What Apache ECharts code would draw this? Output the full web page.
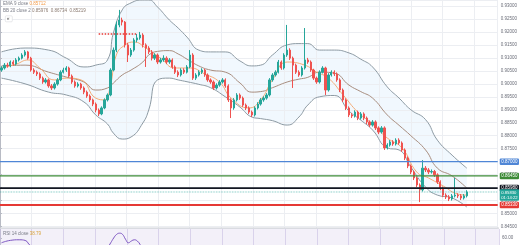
<!DOCTYPE html>
<html><head><meta charset="utf-8">
<script src="https://cdn.jsdelivr.net/npm/echarts@6/dist/echarts.min.js"></script>
<style>html,body{margin:0;padding:0;background:#fff}#c{width:520px;height:245px}</style>
</head><body><div id="c"></div><script>
// ---------- data ----------
const firstOpen = 0.9053;
const closes = [0.9061,0.9072,0.9069,0.9084,0.9076,0.9092,0.9099,0.9111,0.9123,0.9099,
0.9053,0.9045,0.9038,0.9022,0.9007,0.9015,0.8992,0.8984,0.8999,0.9015,
0.9045,0.9053,0.9061,0.9030,0.9007,0.8992,0.8999,0.8984,0.8968,0.8953,
0.8938,0.8922,0.8899,0.8884,0.8907,0.8938,0.8957,0.9053,0.9130,0.9227,
0.9246,0.9238,0.9150,0.9111,0.9130,0.9169,0.9177,0.9188,0.9150,0.9138,
0.9123,0.9099,0.9111,0.9084,0.9092,0.9099,0.9084,0.9092,0.9065,0.9045,
0.9034,0.9053,0.9045,0.9065,0.9111,0.9022,0.9034,0.9045,0.9053,0.9034,
0.9015,0.9007,0.8984,0.8995,0.9007,0.9015,0.8992,0.8938,0.8907,0.8938,
0.8957,0.8945,0.8918,0.8907,0.8891,0.8880,0.8907,0.8922,0.8938,0.8945,
0.8957,0.9015,0.9034,0.9045,0.9084,0.9061,0.9111,0.9130,0.9099,0.9072,
0.9045,0.9034,0.9061,0.9092,0.9084,0.9053,0.9022,0.9007,0.9045,0.9061,
0.8976,0.9034,0.9045,0.9038,0.9015,0.8976,0.8938,0.8907,0.8880,0.8876,
0.8891,0.8868,0.8884,0.8868,0.8853,0.8841,0.8853,0.8830,0.8814,0.8830,
0.8753,0.8764,0.8776,0.8768,0.8783,0.8772,0.8745,0.8714,0.8683,0.8660,
0.8637,0.8610,0.8591,0.8675,0.8668,0.8660,0.8662,0.8649,0.8622,0.8598,
0.8571,0.8564,0.8556,0.8568,0.8571,0.8568,0.8560,0.8568,0.8583];
const highs = [0.9068,0.9080,0.9081,0.9090,0.9091,0.9099,0.9105,0.9118,0.9130,0.9127,
0.9104,0.9060,0.9051,0.9044,0.9028,0.9022,0.9020,0.8999,0.9006,0.9022,
0.9052,0.9062,0.9068,0.9066,0.9036,0.9013,0.9006,0.9004,0.8990,0.8974,
0.8959,0.8943,0.8928,0.8905,0.8913,0.8944,0.8963,0.9060,0.9140,0.9240,
0.9285,0.9255,0.9242,0.9158,0.9138,0.9176,0.9192,0.9200,0.9195,0.9156,
0.9145,0.9130,0.9118,0.9117,0.9100,0.9110,0.9106,0.9099,0.9098,0.9071,
0.9052,0.9060,0.9060,0.9072,0.9130,0.9118,0.9041,0.9052,0.9060,0.9058,
0.9040,0.9021,0.9013,0.9002,0.9014,0.9022,0.9021,0.8998,0.8944,0.8945,
0.8964,0.8963,0.8951,0.8924,0.8913,0.8897,0.8913,0.8929,0.8945,0.8952,
0.8964,0.9022,0.9041,0.9052,0.9092,0.9090,0.9118,0.9227,0.9137,0.9105,
0.9078,0.9052,0.9068,0.9215,0.9100,0.9090,0.9058,0.9028,0.9052,0.9068,
0.9066,0.9041,0.9052,0.9052,0.9044,0.9021,0.8982,0.8944,0.8913,0.8887,
0.8898,0.8897,0.8891,0.8890,0.8874,0.8859,0.8860,0.8859,0.8836,0.8837,
0.8836,0.8771,0.8783,0.8783,0.8790,0.8790,0.8778,0.8751,0.8720,0.8689,
0.8666,0.8643,0.8616,0.8706,0.8683,0.8675,0.8670,0.8668,0.8655,0.8628,
0.8604,0.8578,0.8571,0.8575,0.8637,0.8578,0.8575,0.8575,0.8590];
const lows = [0.9047,0.9055,0.9062,0.9064,0.9070,0.9071,0.9086,0.9094,0.9105,0.9093,
0.9047,0.9038,0.9030,0.9015,0.9000,0.9001,0.8985,0.8976,0.8978,0.8993,
0.9010,0.9040,0.9046,0.9024,0.9000,0.8985,0.8986,0.8977,0.8960,0.8946,
0.8930,0.8914,0.8890,0.8876,0.8879,0.8902,0.8932,0.8952,0.9048,0.9122,
0.9218,0.9225,0.9140,0.9084,0.9104,0.9124,0.9160,0.9170,0.9140,0.9065,
0.9115,0.9090,0.9092,0.9076,0.9078,0.9085,0.9076,0.9077,0.9058,0.9038,
0.9026,0.9028,0.9038,0.9040,0.9060,0.9015,0.9015,0.9028,0.9038,0.9027,
0.9008,0.9000,0.8976,0.8978,0.8989,0.9001,0.8985,0.8930,0.8868,0.8900,
0.8932,0.8938,0.8911,0.8899,0.8884,0.8872,0.8874,0.8901,0.8916,0.8931,
0.8939,0.8951,0.9008,0.9028,0.9040,0.9054,0.9055,0.9104,0.9092,0.8984,
0.9038,0.9027,0.9028,0.9055,0.9077,0.9046,0.9015,0.9000,0.9001,0.9040,
0.8957,0.8970,0.9028,0.9030,0.9008,0.8968,0.8930,0.8899,0.8872,0.8868,
0.8870,0.8860,0.8862,0.8860,0.8845,0.8833,0.8835,0.8822,0.8806,0.8808,
0.8745,0.8747,0.8758,0.8761,0.8762,0.8765,0.8738,0.8706,0.8675,0.8652,
0.8629,0.8602,0.8544,0.8585,0.8660,0.8652,0.8654,0.8641,0.8614,0.8590,
0.8563,0.8556,0.8548,0.8550,0.8562,0.8560,0.8552,0.8554,0.8562];
const emptySlots = 10;

const bbIdx    = [0,8,16,22,28,32,36,38,41,44,48,50,53,57,60,63,67,71,76,81,85,88,92,97,101,104,108,113,118,122,126,131,135,139,144,148,153,158];
const bbUpper  = [0.9123,0.9138,0.9130,0.9099,0.9065,0.9072,0.9092,0.9196,0.9285,0.9312,0.9323,0.9323,0.9296,0.9246,0.9215,0.9180,0.9130,0.9123,0.9123,0.9088,0.9069,0.9072,0.9111,0.9150,0.9155,0.9155,0.9130,0.9130,0.9119,0.9095,0.9065,0.8988,0.8945,0.8900,0.8862,0.8783,0.8725,0.8675];
const bbMiddle = [0.9069,0.9072,0.9045,0.9026,0.9007,0.8976,0.8984,0.9003,0.9034,0.9053,0.9084,0.9111,0.9125,0.9128,0.9115,0.9095,0.9069,0.9053,0.9045,0.9003,0.8968,0.8970,0.8985,0.9007,0.9018,0.9025,0.9045,0.9041,0.8995,0.8970,0.8945,0.8880,0.8840,0.8800,0.8745,0.8675,0.8645,0.8598];
const bbLower  = [0.9022,0.9000,0.8968,0.8957,0.8930,0.8880,0.8845,0.8810,0.8787,0.8795,0.8849,0.8899,0.9015,0.9022,0.9015,0.9008,0.8998,0.8985,0.8950,0.8910,0.8872,0.8866,0.8858,0.8841,0.8872,0.8918,0.8950,0.8955,0.8895,0.8860,0.8822,0.8753,0.8745,0.8679,0.8602,0.8571,0.8560,0.8525];

const emaIdx  = [0,5,9,13,18,22,27,32,35,37,39,42,45,49,54,59,64,69,74,78,84,88,92,97,103,107,111,116,121,126,131,136,141,145,150,155,158];
const emaVals = [0.9061,0.9076,0.9092,0.9061,0.9015,0.9022,0.9015,0.8945,0.8938,0.8995,0.9111,0.9150,0.9161,0.9138,0.9099,0.9061,0.9061,0.9038,0.9007,0.8945,0.8907,0.8938,0.9015,0.9084,0.9072,0.9045,0.9022,0.8957,0.8891,0.8845,0.8791,0.8753,0.8660,0.8637,0.8606,0.8575,0.8571];

const rsiIdx  = [0,3,6,8,10,14,20,26,32,35,37,38,39,40,41,42,43,44,45,46,48,55,65,75,85,95,98,100,104,110,120,130,140,143,145,150,158];
const rsiVals = [52,56,57,56,47,44,47,40,33,38,52,60,66,68,66,58,52,55,57,55,46,45,46,42,36,44,47,45,47,44,38,32,28,26,42,34,38.79];

const levelValues = [0.8700, 0.8645, 0.8598, 0.8533];
const levelColors = ['#4f86d6', '#3d8b37', '#131722', '#e53935'];
const levelWidths = [1.1, 1.3, 1.6, 2];
const redDashIdx = [33, 46];
const redDashValue = 0.9192;
const lastPrice = 0.8583;
const countdown = '01:14:22';
const yTickStep = 0.005;
const yMin = 0.84442, yMax = 0.93231;
const rsiMin = 48.3, rsiMax = 75, rsiStep = 15;
const gridUnits = 499 / 31.7; // span of the helper x-axis used for vertical grid lines

// ---------- build ----------
const n = closes.length;
const cats = [];
for (let i = 0; i < n + emptySlots; i++) cats.push(String(i));
const candles = closes.map((c, i) => [i === 0 ? firstOpen : closes[i - 1], c, lows[i], highs[i]]);
const pairs = (idx, vals) => idx.map((x, k) => [x, vals[k]]);
const bbDiff = bbIdx.map((x, k) => [x, +(bbUpper[k] - bbLower[k]).toFixed(5)]);

const FONT = 'Liberation Sans';
const txtGray = '#787b86';

const levelSeries = levelValues.map((v, k) => ({
  name: 'level' + k, type: 'line', xAxisIndex: 1, yAxisIndex: 0,
  data: [[0, v], [gridUnits, v]], showSymbol: false, silent: true, z: 6,
  lineStyle: { color: levelColors[k], width: levelWidths[k], type: 'solid' },
  endLabel: { show: true, distance: 2, formatter: v.toFixed(5),
    color: '#fff', backgroundColor: levelColors[k], fontSize: 4.5, fontFamily: FONT,
    padding: [1, 1.5, 0.5, 1.5], borderRadius: 1 }
}));

const chart = echarts.init(document.getElementById('c'), null, { renderer: 'canvas' });
chart.setOption({
  animation: false,
  backgroundColor: '#ffffff',
  textStyle: { fontFamily: FONT },
  grid: [
    { left: 0, right: 21, top: 0, height: 228 },
    { left: 0, right: 21, top: 229, height: 16, show: true, backgroundColor: 'rgba(126,87,194,0.09)', borderWidth: 0 }
  ],
  xAxis: [
    { type: 'category', gridIndex: 0, data: cats, boundaryGap: true, show: false },
    { type: 'value', gridIndex: 0, min: 0, max: gridUnits, interval: 1, position: 'top', z: 2,
      axisLine: { show: false }, axisTick: { show: false }, axisLabel: { show: false },
      splitLine: { show: true, lineStyle: { color: '#eceef2', width: 1 } } },
    { type: 'category', gridIndex: 1, data: cats, boundaryGap: true, show: false },
    { type: 'value', gridIndex: 1, min: 0, max: gridUnits, interval: 1, z: 2,
      axisLine: { show: false }, axisTick: { show: false }, axisLabel: { show: false },
      splitLine: { show: true, lineStyle: { color: 'rgba(200,190,225,0.6)', width: 1 } } }
  ],
  yAxis: [
    { type: 'value', gridIndex: 0, position: 'right', min: yMin, max: yMax, scale: true,
      splitNumber: 17, minInterval: yTickStep, maxInterval: yTickStep, z: 2,
      axisLine: { show: true, lineStyle: { color: '#b8bbc4', width: 1 } },
      axisTick: { show: true, length: 2, lineStyle: { color: '#b8bbc4' } },
      axisLabel: { fontSize: 4.5, color: '#6a6d78', margin: 3, showMinLabel: false, showMaxLabel: false,
        formatter: v => v.toFixed(5) },
      splitLine: { show: true, lineStyle: { color: '#eceef2', width: 1 } } },
    { type: 'value', gridIndex: 1, position: 'right', min: rsiMin, max: rsiMax, scale: true,
      splitNumber: 2, minInterval: rsiStep, maxInterval: rsiStep,
      axisLine: { show: true, lineStyle: { color: '#b8bbc4', width: 1 } },
      axisTick: { show: true, length: 2, lineStyle: { color: '#b8bbc4' } },
      axisLabel: { fontSize: 4.5, color: '#6a6d78', margin: 3, showMinLabel: false, showMaxLabel: false, formatter: v => v.toFixed(2) },
      splitLine: { show: false } }
  ],
  series: [
    { name: 'bbBase', type: 'line', xAxisIndex: 0, yAxisIndex: 0, stack: 'bb', data: pairs(bbIdx, bbLower),
      smooth: 0.5, showSymbol: false, silent: true, lineStyle: { opacity: 0 }, z: 1 },
    { name: 'bbFill', type: 'line', xAxisIndex: 0, yAxisIndex: 0, stack: 'bb', data: bbDiff,
      smooth: 0.5, showSymbol: false, silent: true, lineStyle: { opacity: 0 },
      areaStyle: { color: 'rgba(33,150,243,0.09)' }, z: 1 },
    { name: 'bbUpper', type: 'line', xAxisIndex: 0, yAxisIndex: 0, data: pairs(bbIdx, bbUpper),
      smooth: 0.5, showSymbol: false, silent: true, lineStyle: { color: '#8d9aa3', width: 1 }, z: 3 },
    { name: 'bbLower', type: 'line', xAxisIndex: 0, yAxisIndex: 0, data: pairs(bbIdx, bbLower),
      smooth: 0.5, showSymbol: false, silent: true, lineStyle: { color: '#8d9aa3', width: 1 }, z: 3 },
    { name: 'bbMiddle', type: 'line', xAxisIndex: 0, yAxisIndex: 0, data: pairs(bbIdx, bbMiddle),
      smooth: 0.5, showSymbol: false, silent: true, lineStyle: { color: '#a88d7e', width: 1 }, z: 3 },
    { name: 'ema', type: 'line', xAxisIndex: 0, yAxisIndex: 0, data: pairs(emaIdx, emaVals),
      smooth: 0.5, showSymbol: false, silent: true, lineStyle: { color: '#f3a469', width: 0.9 }, z: 3 },
    { name: 'price', type: 'candlestick', xAxisIndex: 0, yAxisIndex: 0, data: candles, barWidth: '62%', z: 5,
      itemStyle: { color: '#26a69a', color0: '#ef5350', borderColor: '#26a69a', borderColor0: '#ef5350', borderWidth: 1 } },
    { name: 'lastPrice', type: 'line', xAxisIndex: 1, yAxisIndex: 0,
      data: [[0, lastPrice], [gridUnits, lastPrice]], showSymbol: false, silent: true, z: 7,
      lineStyle: { color: '#26a69a', width: 0.8, type: 'dotted', opacity: 0.8 },
      endLabel: { show: true, distance: 2, offset: [0, 3],
        formatter: lastPrice.toFixed(5) + '\n' + countdown,
        color: '#fff', backgroundColor: '#26a69a', fontSize: 4.2, lineHeight: 5, fontFamily: FONT,
        padding: [1, 1.5, 0.5, 1.5], borderRadius: 1 } },
    { name: 'redDash', type: 'line', xAxisIndex: 0, yAxisIndex: 0,
      data: redDashIdx.map(x => [x, redDashValue]), showSymbol: false, silent: true,
      lineStyle: { color: '#e53935', width: 1.5, type: [1.5, 1.5] }, z: 6 },
    { name: 'rsi', type: 'line', xAxisIndex: 2, yAxisIndex: 1, data: pairs(rsiIdx, rsiVals),
      smooth: 0.5, showSymbol: false, silent: true, lineStyle: { color: '#7e57c2', width: 1 }, z: 3 }
  ].concat(levelSeries),
  graphic: [
    { type: 'rect', left: 0, top: 227.5, shape: { width: 499, height: 1.2 }, style: { fill: '#d3d5db' }, z: 10 },
    { type: 'text', left: 3, top: 1.5, z: 10, style: { text: '{a|EMA 9 close }{b|0.85712}',
      rich: { a: { fontSize: 4.5, fill: txtGray, fontFamily: FONT }, b: { fontSize: 4.5, fill: '#f39c4a', fontFamily: FONT } } } },
    { type: 'text', left: 3, top: 8.5, z: 10, style: { text: '{a|BB 20 close 2 }{b|0.85976  0.86734  0.85219}',
      rich: { a: { fontSize: 4.5, fill: txtGray, fontFamily: FONT }, b: { fontSize: 4.5, fill: '#8a7a70', fontFamily: FONT } } } },
    { type: 'rect', left: 5, top: 15.5, z: 10, shape: { width: 7, height: 6, r: 1 }, style: { fill: '#fff', stroke: '#d6d8de', lineWidth: 0.6 } },
    { type: 'text', left: 6.8, top: 16, z: 11, style: { text: '«', fontSize: 5, fill: '#555' } },
    { type: 'text', left: 3, top: 231.5, z: 10, style: { text: '{a|RSI 14 close }{b|38.79}',
      rich: { a: { fontSize: 4.5, fill: txtGray, fontFamily: FONT }, b: { fontSize: 4.5, fill: '#d8a23a', fontFamily: FONT } } } }
  ]
});
</script></body></html>
